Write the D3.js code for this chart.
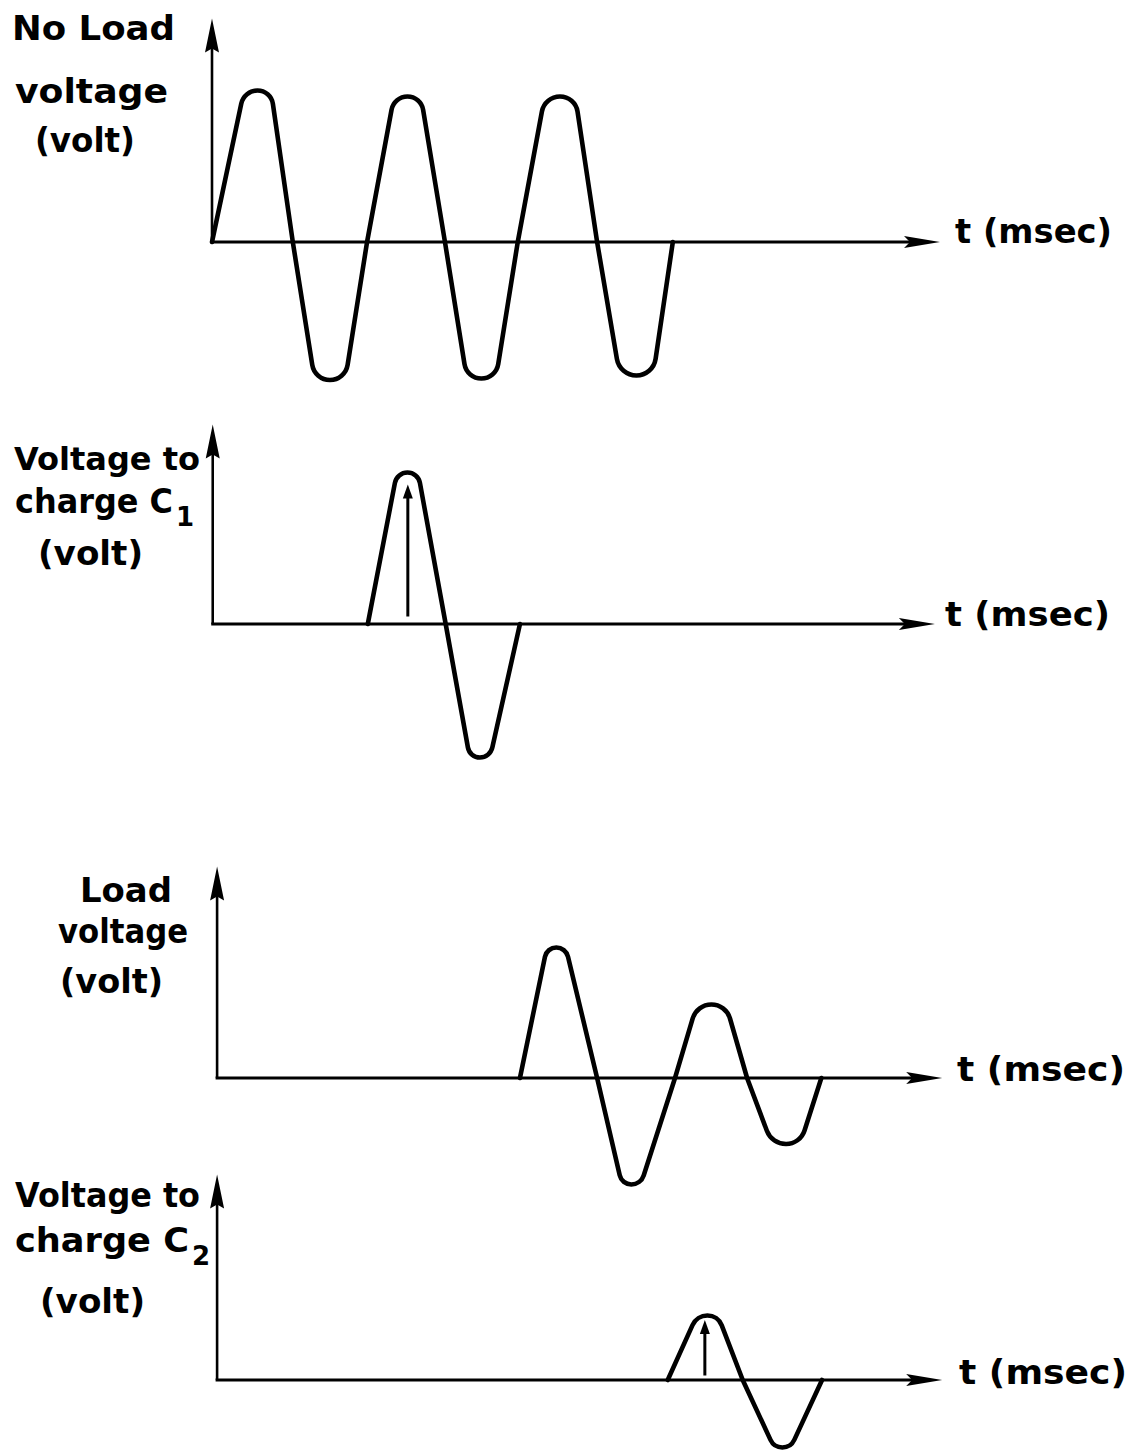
<!DOCTYPE html>
<html>
<head>
<meta charset="utf-8">
<script src="https://cdn.jsdelivr.net/npm/d3@7"></script>
<style>
  body { margin: 0; background: #fff; }
  text { font-family: "DejaVu Sans", sans-serif; font-weight: bold; fill: #000; }
</style>
</head>
<body>
<script>
// time in arbitrary units (0..100 across the t axis), voltage normalised to ±1
const noLoadT = [0, 4.4, 8.1, 11.1, 14.1, 18.3, 21.3, 25.0, 28.7, 32.0, 35.0, 39.0, 42.0, 45.7, 49.9, 52.9, 56.0, 60.6, 63.3];
const noLoadV = [0, 1.01, 1.01, 0, -0.92, -0.92, 0, 0.97, 0.97, 0, -0.91, -0.91, 0, 0.97, 0.97, 0, -0.89, -0.89, 0];

const chargeC1T = [21.4, 25.4, 28.3, 32.1, 35.4, 38.2, 42.3];
const chargeC1V = [0, 1.01, 1.01, 0, -0.89, -0.89, 0];

const loadT = [42.3, 46.0, 48.6, 52.9, 56.3, 58.9, 63.6, 66.6, 70.6, 73.5, 76.9, 80.8, 83.7];
const loadV = [0, 0.87, 0.87, 0, -0.71, -0.71, 0, 0.49, 0.49, 0, -0.44, -0.44, 0];

const chargeC2T = [62.6, 66.6, 69.5, 72.9, 77.2, 79.5, 83.8];
const chargeC2V = [0, 0.43, 0.43, 0, -0.45, -0.45, 0];

// charging instant markers (panel index, time, from, to)
const markerPanel = [1, 3];
const markerT = [26.9, 67.7];
const markerFrom = [0.05, 0.03];
const markerTo = [0.93, 0.40];

const yLabels = [
  ["No Load", "voltage", "(volt)"],
  ["Voltage to", "charge C", "(volt)"],
  ["Load", "voltage", "(volt)"],
  ["Voltage to", "charge C", "(volt)"]
];
const subscripts = ["", "1", "", "2"];
const xLabel = "t (msec)";

const series = [
  {t: noLoadT, v: noLoadV},
  {t: chargeC1T, v: chargeC1V},
  {t: loadT, v: loadV},
  {t: chargeC2T, v: chargeC2V}
];

// layout: label lines are [x, baseline, width, font size]
const panels = [
  {axisY: 242, axisT: 0, yTop: 1.49, xEnd: 100,
   lines: [[12, 40, 163, 34], [15, 103, 153, 34], [35, 152, 100, 34]], xl: [955, 243, 157]},
  {axisY: 624, axisT: 0.1, yTop: 1.33, xEnd: 99.3,
   lines: [[14, 470, 186, 32], [15, 513, 158, 33], [38, 565, 105, 34]], xl: [945, 626, 165]},
  {axisY: 1078, axisT: 0.7, yTop: 1.41, xEnd: 100.3,
   lines: [[80, 902, 92, 34], [58, 943, 130, 34], [60, 993, 103, 34]], xl: [957, 1081, 168]},
  {axisY: 1380, axisT: 0.7, yTop: 1.37, xEnd: 100.3,
   lines: [[15, 1207, 185, 34], [15, 1252, 174, 34], [40, 1313, 105, 34]], xl: [959, 1384, 168]}
];

const width = 1139, height = 1453;

const svg = d3.select("body").append("svg")
    .attr("width", width)
    .attr("height", height);

svg.append("rect").attr("width", width).attr("height", height).attr("fill", "#fff");

const x = d3.scaleLinear().domain([0, 100]).range([212, 940]);

// straight segments with rounded caps at the peak shoulders
function roundedPath(pts, round, r) {
  const p = d3.path();
  p.moveTo(pts[0][0], pts[0][1]);
  for (let i = 1; i < pts.length - 1; i++) {
    const [x0, y0] = pts[i - 1], [x1, y1] = pts[i], [x2, y2] = pts[i + 1];
    if (!round[i]) { p.lineTo(x1, y1); continue; }
    const a1 = Math.atan2(y0 - y1, x0 - x1), a2 = Math.atan2(y2 - y1, x2 - x1);
    let ang = Math.abs(a1 - a2);
    if (ang > Math.PI) ang = 2 * Math.PI - ang;
    const l1 = Math.hypot(x0 - x1, y0 - y1), l2 = Math.hypot(x2 - x1, y2 - y1);
    const rr = Math.min(r, Math.min(l1, l2) / 2 * Math.tan(ang / 2));
    p.arcTo(x1, y1, x2, y2, rr);
  }
  const last = pts[pts.length - 1];
  p.lineTo(last[0], last[1]);
  return p.toString();
}

panels.forEach((pn, i) => {
  const y = d3.scaleLinear().domain([-1, 1]).range([pn.axisY + 150, pn.axisY - 150]);
  const g = svg.append("g");
  const ax = x(pn.axisT), ay = y(0);

  // t axis
  const xe = x(pn.xEnd);
  g.append("line")
      .attr("x1", ax - 1.5).attr("y1", ay)
      .attr("x2", xe - 20).attr("y2", ay)
      .attr("stroke", "#000").attr("stroke-width", 3);
  g.append("path")
      .attr("d", `M${xe},${ay}L${xe - 36},${ay - 6}L${xe - 30},${ay}L${xe - 36},${ay + 6}Z`)
      .attr("fill", "#000");

  // voltage axis
  const yt = y(pn.yTop);
  g.append("line")
      .attr("x1", ax).attr("y1", ay)
      .attr("x2", ax).attr("y2", yt + 20)
      .attr("stroke", "#000").attr("stroke-width", 2.6);
  g.append("path")
      .attr("d", `M${ax},${yt}L${ax - 7},${yt + 34}L${ax},${yt + 30}L${ax + 7},${yt + 34}Z`)
      .attr("fill", "#000");

  // waveform
  const s = series[i];
  const pts = s.t.map((t, k) => [x(t), y(s.v[k])]);
  const round = s.v.map(v => v !== 0);
  g.append("path")
      .attr("d", roundedPath(pts, round, 40))
      .attr("fill", "none")
      .attr("stroke", "#000")
      .attr("stroke-width", 4.6)
      .attr("stroke-linejoin", "round")
      .attr("stroke-linecap", "round");

  // axis labels
  pn.lines.forEach((l, k) => {
    const txt = g.append("text")
        .attr("x", l[0]).attr("y", l[1])
        .attr("font-size", l[3]);
    txt.append("tspan")
        .attr("textLength", l[2])
        .attr("lengthAdjust", "spacingAndGlyphs")
        .text(yLabels[i][k]);
    if (k === 1 && subscripts[i]) {
      txt.append("tspan")
          .attr("dx", 3).attr("dy", 13)
          .attr("font-size", 26)
          .text(subscripts[i]);
    }
  });
  g.append("text")
      .attr("x", pn.xl[0]).attr("y", pn.xl[1])
      .attr("font-size", 34)
      .attr("textLength", pn.xl[2])
      .attr("lengthAdjust", "spacingAndGlyphs")
      .text(xLabel);
});

// charging instant arrows
markerT.forEach((t, k) => {
  const pn = panels[markerPanel[k]];
  const y = d3.scaleLinear().domain([-1, 1]).range([pn.axisY + 150, pn.axisY - 150]);
  const mx = x(t), y0 = y(markerFrom[k]), y1 = y(markerTo[k]);
  svg.append("line")
      .attr("x1", mx).attr("y1", y0)
      .attr("x2", mx).attr("y2", y1 + 8)
      .attr("stroke", "#000").attr("stroke-width", 3);
  svg.append("path")
      .attr("d", `M${mx},${y1}L${mx - 5},${y1 + 14}L${mx + 5},${y1 + 14}Z`)
      .attr("fill", "#000");
});
</script>
</body>
</html>
